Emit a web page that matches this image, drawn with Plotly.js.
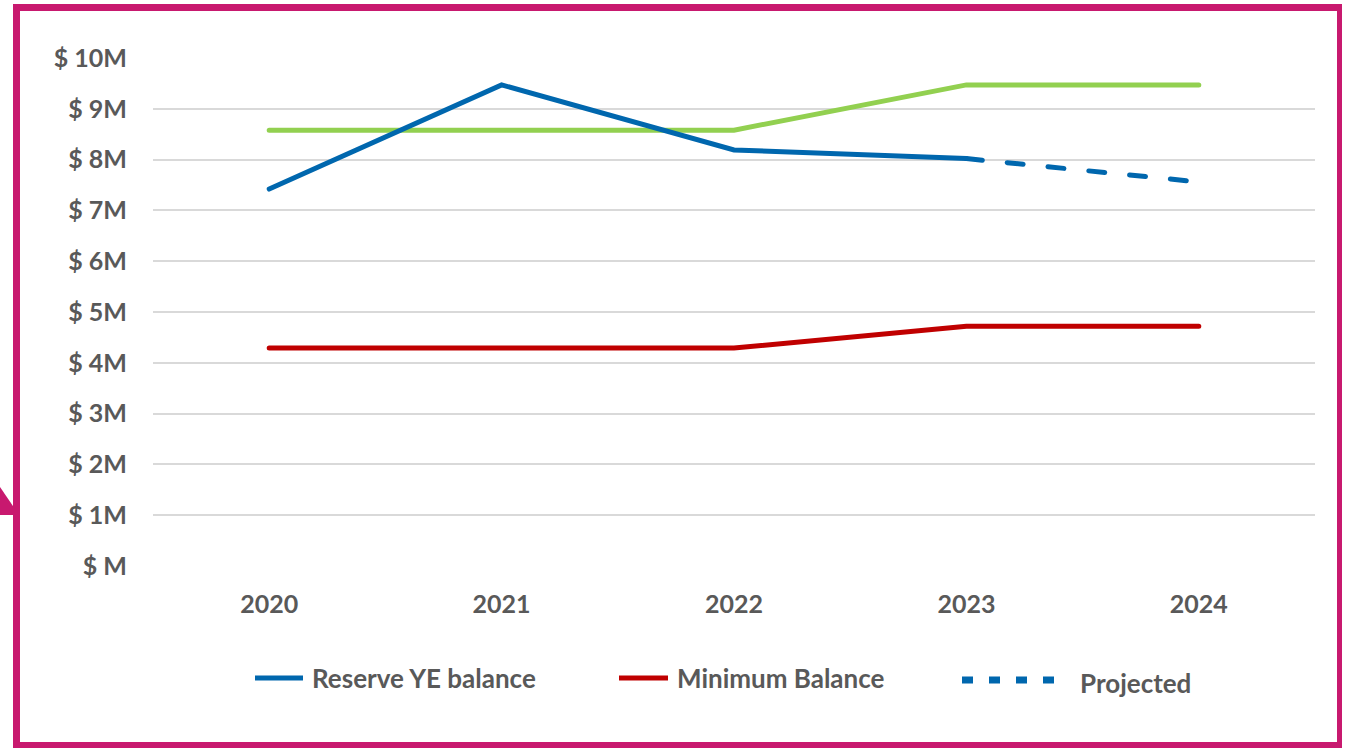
<!DOCTYPE html>
<html>
<head>
<meta charset="utf-8">
<script src="https://cdn.plot.ly/plotly-3.0.1.min.js"></script>
<style>
  html, body { margin: 0; padding: 0; background: #ffffff; }
  #wrap { position: relative; width: 1345px; height: 750px; overflow: hidden; }
  #chart { position: absolute; left: 0; top: 0; width: 1345px; height: 750px; }
  #frame { position: absolute; left: 13px; top: 4px; width: 1329px; height: 744px; box-sizing: border-box;
           border-style: solid; border-color: #C8196F; border-width: 7px 5px 6px 7px; pointer-events: none; }
  #pointer { position: absolute; left: 0; top: 480px; pointer-events: none; }
  .scatterlayer .js-line { stroke-linecap: round; }
</style>
</head>
<body>
<div id="wrap">
  <div id="chart"></div>
  <div id="frame"></div>
  <svg id="pointer" width="22" height="40"><polygon points="0,7 15,29 15,35 0,35" fill="#C8196F"/></svg>
</div>
<script>
// ---- data ----
const years = ['2020', '2021', '2022', '2023', '2024'];
const reserveBalance = [7.42, 9.47, 8.19, 8.02, null];
const projectedBalance = [null, null, null, 8.02, 7.56];
const minimumBalance = [4.29, 4.29, 4.29, 4.72, 4.72];
const targetBalance = [8.58, 8.58, 8.58, 9.47, 9.47];
const yTickVals = [0, 1, 2, 3, 4, 5, 6, 7, 8, 9, 10];
const yTickText = ['$ M', '$ 1M', '$ 2M', '$ 3M', '$ 4M', '$ 5M', '$ 6M', '$ 7M', '$ 8M', '$ 9M', '$ 10M'];
const legendNames = ['Reserve YE balance', 'Minimum Balance', 'Projected'];

const BLUE = '#0067AE', RED = '#C00000', GREEN = '#92D050', TXT = '#595959';
const FONT = 'Lato, "Open Sans", "Liberation Sans", sans-serif';

const traces = [
  { x: years, y: targetBalance, type: 'scatter', mode: 'lines', name: 'Target',
    line: { color: GREEN, width: 5 }, showlegend: false, hoverinfo: 'skip' },
  { x: years, y: minimumBalance, type: 'scatter', mode: 'lines', name: legendNames[1],
    line: { color: RED, width: 5 }, showlegend: false },
  { x: years, y: reserveBalance, type: 'scatter', mode: 'lines', name: legendNames[0],
    line: { color: BLUE, width: 5 }, showlegend: false },
  { x: years, y: projectedBalance, type: 'scatter', mode: 'lines', name: legendNames[2],
    line: { color: BLUE, width: 5, dash: '16px,25px' }, showlegend: false }
];

// legend drawn manually (paper coordinates)
const L = 153, R = 1315, T = 58, B = 566;
const px = v => (v - L) / (R - L);
const py = v => (B - v) / (B - T);
const tickFont = { family: FONT, size: 25, color: TXT, weight: 'bold' };
const legFont = { family: FONT, size: 26, color: TXT, weight: 'bold' };

const layout = {
  width: 1345, height: 750,
  margin: { l: L, r: 1345 - R, t: T, b: 750 - B },
  paper_bgcolor: 'rgba(0,0,0,0)', plot_bgcolor: 'rgba(0,0,0,0)',
  font: { family: FONT, color: TXT, size: 22 },
  xaxis: {
    type: 'category', range: [-0.5, 4.5], showgrid: false, zeroline: false, showline: false,
    ticks: '', ticklabelstandoff: 21, tickfont: tickFont
  },
  yaxis: {
    range: [0, 10], tickvals: yTickVals, ticktext: yTickText,
    showgrid: true, gridcolor: '#D9D9D9', gridwidth: 2, zeroline: false, showline: false,
    ticks: '', ticklabelstandoff: 25, tickfont: tickFont
  },
  showlegend: false,
  shapes: [
    { type: 'line', xref: 'paper', yref: 'paper', x0: px(255), x1: px(303), y0: py(678), y1: py(678),
      line: { color: BLUE, width: 5 } },
    { type: 'line', xref: 'paper', yref: 'paper', x0: px(619), x1: px(668), y0: py(678), y1: py(678),
      line: { color: RED, width: 5 } },
    { type: 'line', xref: 'paper', yref: 'paper', x0: px(962), x1: px(1054), y0: py(680), y1: py(680),
      line: { color: BLUE, width: 7, dash: '11px,16px' } }
  ],
  annotations: [
    { xref: 'paper', yref: 'paper', x: px(310), y: py(678), xanchor: 'left', yanchor: 'middle',
      text: legendNames[0], showarrow: false, font: legFont },
    { xref: 'paper', yref: 'paper', x: px(675), y: py(678), xanchor: 'left', yanchor: 'middle',
      text: legendNames[1], showarrow: false, font: legFont },
    { xref: 'paper', yref: 'paper', x: px(1078), y: py(683), xanchor: 'left', yanchor: 'middle',
      text: legendNames[2], showarrow: false, font: legFont }
  ]
};

Plotly.newPlot('chart', traces, layout, { displayModeBar: false, responsive: false, staticPlot: true });
</script>
</body>
</html>
